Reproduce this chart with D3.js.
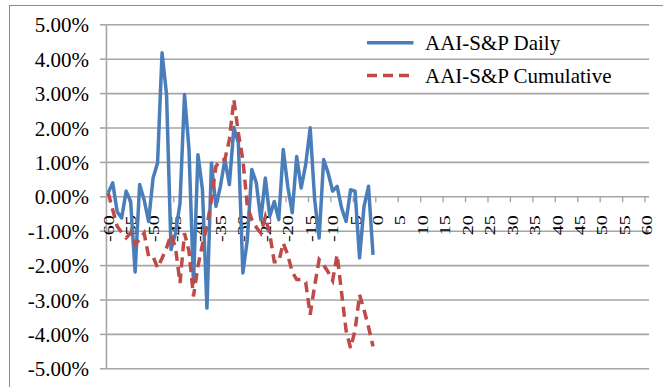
<!DOCTYPE html>
<html><head><meta charset="utf-8">
<script src="https://cdn.jsdelivr.net/npm/d3@7"></script>
<style>body{margin:0;background:#fff}svg{display:block}text{font-family:"Liberation Serif","Times New Roman",serif;fill:#000}</style>
</head><body><svg id="c" width="663" height="387"></svg>
<script>
const days = [-60,-59,-58,-57,-56,-55,-54,-53,-52,-51,-50,-49,-48,-47,-46,-45,-44,-43,-42,-41,
  -40,-39,-38,-37,-36,-35,-34,-33,-32,-31,-30,-29,-28,-27,-26,-25,-24,-23,-22,-21,
  -20,-19,-18,-17,-16,-15,-14,-13,-12,-11,-10,-9,-8,-7,-6,-5,-4,-3,-2,-1];
const dailyAR = [0.10,0.39,-0.45,-0.63,0.15,-0.15,-2.20,0.34,-0.10,-0.73,
  0.53,0.97,4.17,2.96,-1.55,-1.07,-0.20,2.96,1.36,-2.52,
  1.21,0.19,-3.25,0.97,-0.29,0.29,1.07,0.34,2.00,1.55,
  -2.23,-1.26,0.78,0.39,-0.68,0.53,-0.58,-0.15,-0.68,1.36,
  0.29,-0.48,1.16,0.24,0.92,1.99,-0.10,-1.21,1.07,0.68,
  0.15,0.29,-0.34,-0.73,0.19,0.15,-1.79,-0.29,0.29,-1.70];
const cumulativeAR = [0.10,-0.39,-0.87,-1.05,-1.21,-1.07,-1.40,-1.25,-1.07,-1.74,
  -1.75,-2.08,-1.80,-1.50,-1.11,-1.50,-2.52,-1.07,-1.60,-2.91,
  -2.03,-1.40,-0.87,-0.10,0.87,1.05,1.07,1.65,2.81,1.84,
  1.07,-0.29,-0.68,-0.90,-1.07,-0.60,-1.10,-1.90,-1.90,-1.36,
  -1.70,-2.20,-2.42,-2.42,-2.50,-3.44,-2.60,-1.84,-2.00,-2.20,
  -2.45,-1.70,-2.80,-3.90,-4.41,-3.90,-2.86,-3.30,-3.80,-4.36];
const xTicks = [-60,-55,-50,-45,-40,-35,-30,-25,-20,-15,-10,-5,0,5,10,15,20,25,30,35,40,45,50,55,60];
const yTicks = [-5,-4,-3,-2,-1,0,1,2,3,4,5];
const seriesNames = ["AAI-S&P Daily","AAI-S&P Cumulative"];
const colors = ["#4a7ebb","#be4b48"];

const svg = d3.select("#c");
svg.append("rect").attr("x",9.5).attr("y",5.5).attr("width",700).attr("height",420)
  .attr("fill","#fff").attr("stroke","#8c8c8c").attr("stroke-width",1);

const x = d3.scaleLinear().domain([-60,60]).range([108.2,646.8]);
const y = d3.scaleLinear().domain([-5,5]).range([368.3,24.3]);
const half = (x(1)-x(0))/2;
const left = x(-60)-half, right = x(60)+half;

// gridlines
const grid = svg.append("g").attr("transform",`translate(${left},0)`)
  .call(d3.axisLeft(y).tickValues(yTicks).tickSize(-(right-left)).tickFormat(""));
grid.select(".domain").remove();
grid.selectAll("line").attr("stroke","#a6a6a6").attr("stroke-width",1.6);

// y axis
const ya = svg.append("g").attr("transform",`translate(${left},0)`)
  .call(d3.axisLeft(y).tickValues(yTicks).tickSize(6).tickSizeOuter(0).tickPadding(11)
    .tickFormat(d=>d.toFixed(2)+"%"));
ya.select(".domain").attr("stroke","#a6a6a6").attr("stroke-width",1.6);
ya.selectAll(".tick line").attr("stroke","#a6a6a6").attr("stroke-width",1.6);
ya.selectAll("text").attr("font-size",21).attr("dy","0.36em")
  .style("font-family",'"Liberation Serif","Times New Roman",serif');

// x axis
const xa = svg.append("g").attr("transform",`translate(0,${y(0)})`)
  .call(d3.axisBottom(x).tickValues(xTicks).tickSize(6).tickSizeOuter(0).tickFormat(d=>String(d)));
xa.select(".domain").remove();
xa.selectAll(".tick line").attr("x1",-half).attr("x2",-half).attr("stroke","#a6a6a6").attr("stroke-width",1.4);
xa.selectAll("text").attr("font-size",20).attr("x",0).attr("y",0).attr("dy","0.35em")
  .attr("text-anchor","end").attr("transform","translate(0,19) rotate(-90) scale(1,0.72)")
  .style("font-family",'"Liberation Serif","Times New Roman",serif');

// series
const line = d3.line().x((d,i)=>x(days[i])).y(d=>y(d));
svg.append("path").datum(dailyAR).attr("d",line).attr("fill","none")
  .attr("stroke",colors[0]).attr("stroke-width",3.5).attr("stroke-linejoin","round");
svg.append("path").datum(cumulativeAR).attr("d",line).attr("fill","none")
  .attr("stroke",colors[1]).attr("stroke-width",3.5).attr("stroke-dasharray","10,6");

// legend
const lg = svg.append("g");
const lgY = [42.7, 75.5];
seriesNames.forEach((n,i)=>{
  lg.append("line").attr("x1",367).attr("x2",413.5).attr("y1",lgY[i]).attr("y2",lgY[i])
    .attr("stroke",colors[i]).attr("stroke-width",3.5)
    .attr("stroke-dasharray", i===1 ? "10,6" : null);
  lg.append("text").attr("x",425).attr("y",lgY[i]+7.6).attr("font-size",21).text(n);
});
</script></body></html>
